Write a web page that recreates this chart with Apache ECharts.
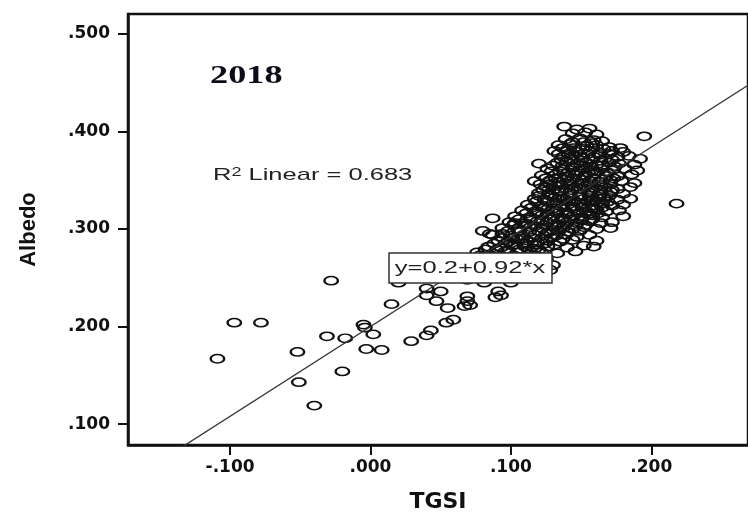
<!DOCTYPE html>
<html>
<head>
<meta charset="utf-8">
<script src="https://cdn.jsdelivr.net/npm/echarts@6/dist/echarts.min.js"></script>
<style>
    html, body { margin: 0; padding: 0; background: #fff; }
    #chart { width: 748px; height: 518px; }
</style>
</head>
<body>
<div id="chart"></div>
<script>
    // axis ranges + ticks
    var xMin = -0.1727, xMax = 0.2689;
    var yMin = 0.0786, yMax = 0.5204;
    var xTicks = [-0.1, 0, 0.1, 0.2];
    var yTicks = [0.1, 0.2, 0.3, 0.4, 0.5];

    // linear fit shown on the plot
    var fitIntercept = 0.2, fitSlope = 0.92;
    var fitLabel = 'y=0.2+0.92*x';
    var r2Value = '0.683';
    var yearLabel = '2018';

    // sparse points, low TGSI
    var sparsePoints = [
        [-0.109, 0.167], [-0.097, 0.204], [-0.078, 0.204], [-0.052, 0.174], [-0.051, 0.143],
        [-0.040, 0.119], [-0.031, 0.190], [-0.028, 0.247], [-0.020, 0.154], [-0.018, 0.188],
        [-0.005, 0.202], [-0.004, 0.199], [0.002, 0.192], [-0.003, 0.177], [0.008, 0.176],
        [0.015, 0.223], [0.020, 0.245], [0.029, 0.185], [0.040, 0.191], [0.043, 0.196],
        [0.054, 0.204], [0.059, 0.207], [0.040, 0.239], [0.040, 0.232], [0.047, 0.226],
        [0.050, 0.236], [0.055, 0.219], [0.069, 0.231], [0.069, 0.226], [0.067, 0.221],
        [0.071, 0.222], [0.089, 0.230], [0.091, 0.236], [0.081, 0.245], [0.093, 0.232],
        [0.100, 0.245], [0.069, 0.248], [0.087, 0.311], [0.080, 0.298], [0.085, 0.295],
        [0.103, 0.306], [0.100, 0.293], [0.218, 0.326], [0.195, 0.395]
    ];

    // dense cluster, read row by row from top to bottom
    var clusterPoints = [
        [0.138, 0.405], [0.147, 0.402], [0.156, 0.403],
        [0.144, 0.398], [0.153, 0.399], [0.161, 0.397],
        [0.139, 0.392], [0.149, 0.393], [0.159, 0.391], [0.165, 0.390],
        [0.134, 0.386], [0.142, 0.387], [0.154, 0.385], [0.161, 0.386], [0.170, 0.384], [0.178, 0.383],
        [0.131, 0.380], [0.140, 0.381], [0.147, 0.379], [0.156, 0.380], [0.163, 0.378], [0.172, 0.380], [0.180, 0.379],
        [0.137, 0.374], [0.144, 0.375], [0.151, 0.373], [0.159, 0.374], [0.167, 0.372], [0.176, 0.374], [0.184, 0.375], [0.192, 0.372],
        [0.120, 0.367], [0.133, 0.368], [0.140, 0.369], [0.147, 0.367], [0.154, 0.368], [0.161, 0.366], [0.170, 0.368], [0.177, 0.367], [0.188, 0.366],
        [0.126, 0.362], [0.137, 0.361], [0.144, 0.363], [0.151, 0.362], [0.158, 0.360], [0.165, 0.362], [0.173, 0.361], [0.181, 0.362], [0.190, 0.360],
        [0.122, 0.355], [0.132, 0.356], [0.139, 0.354], [0.146, 0.356], [0.153, 0.355], [0.160, 0.357], [0.168, 0.355], [0.176, 0.354], [0.186, 0.356],
        [0.117, 0.349], [0.128, 0.350], [0.135, 0.348], [0.142, 0.349], [0.149, 0.351], [0.156, 0.349], [0.163, 0.348], [0.171, 0.350], [0.179, 0.349], [0.188, 0.347],
        [0.125, 0.343], [0.132, 0.344], [0.139, 0.342], [0.146, 0.343], [0.153, 0.344], [0.160, 0.342], [0.167, 0.343], [0.176, 0.341], [0.185, 0.343],
        [0.120, 0.337], [0.127, 0.336], [0.134, 0.338], [0.142, 0.337], [0.149, 0.335], [0.156, 0.337], [0.163, 0.336], [0.171, 0.338], [0.180, 0.336],
        [0.117, 0.331], [0.124, 0.330], [0.131, 0.332], [0.138, 0.331], [0.145, 0.329], [0.152, 0.331], [0.159, 0.330], [0.166, 0.332], [0.176, 0.330], [0.185, 0.331],
        [0.112, 0.325], [0.122, 0.324], [0.130, 0.326], [0.137, 0.325], [0.144, 0.323], [0.151, 0.325], [0.158, 0.324], [0.165, 0.326], [0.172, 0.324], [0.180, 0.325],
        [0.108, 0.319], [0.119, 0.318], [0.126, 0.320], [0.133, 0.319], [0.140, 0.317], [0.147, 0.319], [0.154, 0.318], [0.161, 0.320], [0.168, 0.318], [0.177, 0.319],
        [0.103, 0.313], [0.114, 0.312], [0.122, 0.314], [0.130, 0.313], [0.137, 0.311], [0.144, 0.313], [0.151, 0.312], [0.158, 0.314], [0.165, 0.312], [0.180, 0.313],
        [0.099, 0.307], [0.110, 0.306], [0.119, 0.308], [0.126, 0.307], [0.133, 0.305], [0.140, 0.307], [0.147, 0.306], [0.156, 0.308], [0.164, 0.306], [0.172, 0.307],
        [0.094, 0.301], [0.105, 0.300], [0.114, 0.302], [0.122, 0.301], [0.130, 0.299], [0.137, 0.301], [0.144, 0.300], [0.152, 0.302], [0.161, 0.300], [0.171, 0.301],
        [0.087, 0.294], [0.094, 0.295], [0.108, 0.293], [0.117, 0.294], [0.125, 0.295], [0.132, 0.293], [0.139, 0.294], [0.147, 0.292], [0.156, 0.294],
        [0.091, 0.288], [0.098, 0.287], [0.105, 0.289], [0.112, 0.288], [0.119, 0.286], [0.126, 0.288], [0.135, 0.287], [0.144, 0.289], [0.161, 0.288],
        [0.084, 0.282], [0.093, 0.281], [0.101, 0.283], [0.110, 0.282], [0.117, 0.280], [0.126, 0.282], [0.140, 0.281], [0.152, 0.283], [0.159, 0.282],
        [0.076, 0.276], [0.087, 0.275], [0.096, 0.277], [0.105, 0.276], [0.113, 0.274], [0.122, 0.276], [0.133, 0.275], [0.146, 0.277],
        [0.069, 0.270], [0.080, 0.269], [0.088, 0.271], [0.098, 0.270], [0.106, 0.268], [0.115, 0.270], [0.125, 0.269],
        [0.075, 0.264], [0.085, 0.263], [0.094, 0.265], [0.103, 0.264], [0.112, 0.262], [0.122, 0.264], [0.130, 0.263],
        [0.069, 0.258], [0.080, 0.257], [0.091, 0.259], [0.101, 0.258], [0.112, 0.256], [0.128, 0.258],
        [0.066, 0.252], [0.076, 0.251], [0.087, 0.253], [0.098, 0.252], [0.108, 0.250]
    ];

    // the solid black core of the cluster, between the rows above
    var corePoints = [
        [0.144, 0.389], [0.152, 0.389], [0.158, 0.388],
        [0.137, 0.383], [0.145, 0.383], [0.151, 0.382], [0.158, 0.383], [0.166, 0.382],
        [0.134, 0.377], [0.141, 0.377], [0.149, 0.376], [0.155, 0.377], [0.163, 0.376], [0.170, 0.377],
        [0.136, 0.371], [0.143, 0.371], [0.150, 0.370], [0.157, 0.371], [0.164, 0.370], [0.172, 0.371],
        [0.130, 0.365], [0.137, 0.365], [0.144, 0.364], [0.150, 0.365], [0.157, 0.364], [0.165, 0.365], [0.174, 0.364],
        [0.129, 0.359], [0.135, 0.359], [0.141, 0.358], [0.148, 0.359], [0.155, 0.358], [0.162, 0.359], [0.169, 0.358],
        [0.125, 0.352], [0.132, 0.352], [0.138, 0.351], [0.145, 0.352], [0.152, 0.353], [0.159, 0.352], [0.166, 0.351], [0.173, 0.352],
        [0.121, 0.346], [0.128, 0.346], [0.135, 0.345], [0.142, 0.346], [0.150, 0.347], [0.157, 0.346], [0.164, 0.345], [0.171, 0.346],
        [0.123, 0.340], [0.130, 0.340], [0.136, 0.339], [0.143, 0.340], [0.150, 0.341], [0.157, 0.340], [0.164, 0.339], [0.172, 0.340],
        [0.120, 0.334], [0.128, 0.334], [0.135, 0.333], [0.142, 0.334], [0.149, 0.333], [0.156, 0.334], [0.163, 0.333], [0.170, 0.334],
        [0.118, 0.328], [0.126, 0.328], [0.133, 0.327], [0.141, 0.328], [0.148, 0.327], [0.155, 0.328], [0.162, 0.327], [0.169, 0.328],
        [0.115, 0.322], [0.123, 0.322], [0.130, 0.321], [0.137, 0.322], [0.144, 0.321], [0.151, 0.322], [0.158, 0.321], [0.165, 0.322],
        [0.111, 0.316], [0.118, 0.316], [0.126, 0.315], [0.133, 0.316], [0.140, 0.315], [0.148, 0.316], [0.155, 0.315], [0.162, 0.316],
        [0.106, 0.310], [0.114, 0.310], [0.122, 0.309], [0.129, 0.310], [0.136, 0.309], [0.143, 0.310], [0.150, 0.309], [0.158, 0.310],
        [0.102, 0.304], [0.110, 0.304], [0.117, 0.303], [0.124, 0.304], [0.131, 0.303], [0.138, 0.304], [0.146, 0.303], [0.153, 0.304],
        [0.098, 0.298], [0.106, 0.298], [0.113, 0.297], [0.120, 0.298], [0.127, 0.297], [0.134, 0.298], [0.141, 0.297], [0.149, 0.298],
        [0.094, 0.291], [0.101, 0.291], [0.108, 0.290], [0.115, 0.291], [0.122, 0.290], [0.129, 0.291], [0.137, 0.290],
        [0.088, 0.285], [0.096, 0.285], [0.103, 0.284], [0.110, 0.285], [0.117, 0.284], [0.124, 0.285], [0.131, 0.284],
        [0.082, 0.279], [0.090, 0.279], [0.098, 0.278], [0.106, 0.279], [0.113, 0.278], [0.120, 0.279],
        [0.078, 0.273], [0.086, 0.273], [0.094, 0.272], [0.102, 0.273], [0.110, 0.272], [0.118, 0.273],
        [0.072, 0.267], [0.081, 0.267], [0.090, 0.266], [0.099, 0.267], [0.108, 0.266], [0.116, 0.267],
        [0.073, 0.261], [0.083, 0.261], [0.093, 0.260], [0.104, 0.261]
    ];

    var myChart = echarts.init(document.getElementById('chart'));

    // SPSS style labels: .500, -.100
    function spssFmt(v) {
        var s = Math.abs(v).toFixed(3).replace(/^0/, '');
        return (v < -1e-9 ? '-' : '') + s;
    }

    var fitLine = [
        [xMin, fitIntercept + fitSlope * xMin],
        [xMax, fitIntercept + fitSlope * xMax]
    ];

    var tickLabelStyle = {
        fontFamily: 'DejaVu Sans',
        fontWeight: 'bold',
        fontSize: 17,
        color: '#111'
    };

    var option = {
        animation: false,
        backgroundColor: '#fff',
        grid: {
            left: 128,
            top: 14,
            right: -4,
            bottom: 70,
            show: true,
            borderColor: '#111',
            borderWidth: 2.5
        },
        xAxis: {
            type: 'value',
            min: xMin,
            max: xMax,
            name: 'TGSI',
            nameLocation: 'middle',
            nameGap: 46,
            nameTextStyle: {
                fontFamily: 'DejaVu Sans',
                fontWeight: 'bold',
                fontSize: 22,
                color: '#111'
            },
            splitLine: { show: false },
            axisLine: { onZero: false, lineStyle: { color: '#111', width: 2.5 } },
            axisTick: { customValues: xTicks, length: 10, lineStyle: { color: '#111', width: 2 } },
            axisLabel: Object.assign({ customValues: xTicks, margin: 14, formatter: spssFmt }, tickLabelStyle)
        },
        yAxis: {
            type: 'value',
            min: yMin,
            max: yMax,
            name: 'Albedo',
            nameLocation: 'middle',
            nameRotate: 90,
            nameGap: 88,
            nameTextStyle: {
                fontFamily: 'Liberation Sans',
                fontWeight: 'bold',
                fontSize: 22,
                color: '#111'
            },
            splitLine: { show: false },
            axisLine: { onZero: false, lineStyle: { color: '#111', width: 2.5 } },
            axisTick: { customValues: yTicks, length: 10, lineStyle: { color: '#111', width: 2 } },
            axisLabel: Object.assign({ customValues: yTicks, margin: 18, formatter: spssFmt }, tickLabelStyle)
        },
        series: [
            {
                type: 'scatter',
                // stretched circle, the source image is wider than tall
                symbol: 'path://M0,10a10,10 0 1,0 20,0a10,10 0 1,0 -20,0',
                symbolSize: [13.5, 8.3],
                itemStyle: {
                    color: 'rgba(0,0,0,0)',
                    borderColor: '#111',
                    borderWidth: 1.9,
                    opacity: 1
                },
                data: sparsePoints.concat(clusterPoints, corePoints),
                z: 2
            },
            {
                type: 'line',
                data: fitLine,
                symbol: 'none',
                clip: true,
                lineStyle: { color: '#333', width: 1.3 },
                z: 3
            }
        ],
        graphic: [
            {
                type: 'text',
                x: 210, y: 77,
                scaleX: 1.45,
                z: 100,
                style: {
                    text: yearLabel,
                    fontFamily: 'Liberation Serif',
                    fontWeight: 'bold',
                    fontSize: 25,
                    fill: '#0d0d1a',
                    textVerticalAlign: 'middle'
                }
            },
            {
                type: 'text',
                x: 213, y: 175,
                scaleX: 1.5,
                z: 100,
                style: {
                    text: '{n|R}{s|2}{n| Linear = ' + r2Value + '}',
                    textVerticalAlign: 'middle',
                    rich: {
                        n: { fontFamily: 'Liberation Sans', fontSize: 17, fill: '#222' },
                        s: { fontFamily: 'Liberation Sans', fontSize: 12, fill: '#222', verticalAlign: 'top' }
                    }
                }
            },
            {
                type: 'rect',
                z: 100,
                shape: { x: 389, y: 253, width: 163, height: 30 },
                style: { fill: '#fff', stroke: '#333', lineWidth: 1.5 }
            },
            {
                type: 'text',
                x: 470, y: 268,
                scaleX: 1.5,
                z: 101,
                style: {
                    text: fitLabel,
                    fontFamily: 'Liberation Sans',
                    fontSize: 17,
                    fill: '#222',
                    textAlign: 'center',
                    textVerticalAlign: 'middle'
                }
            }
        ]
    };

    myChart.setOption(option);
</script>
</body>
</html>
